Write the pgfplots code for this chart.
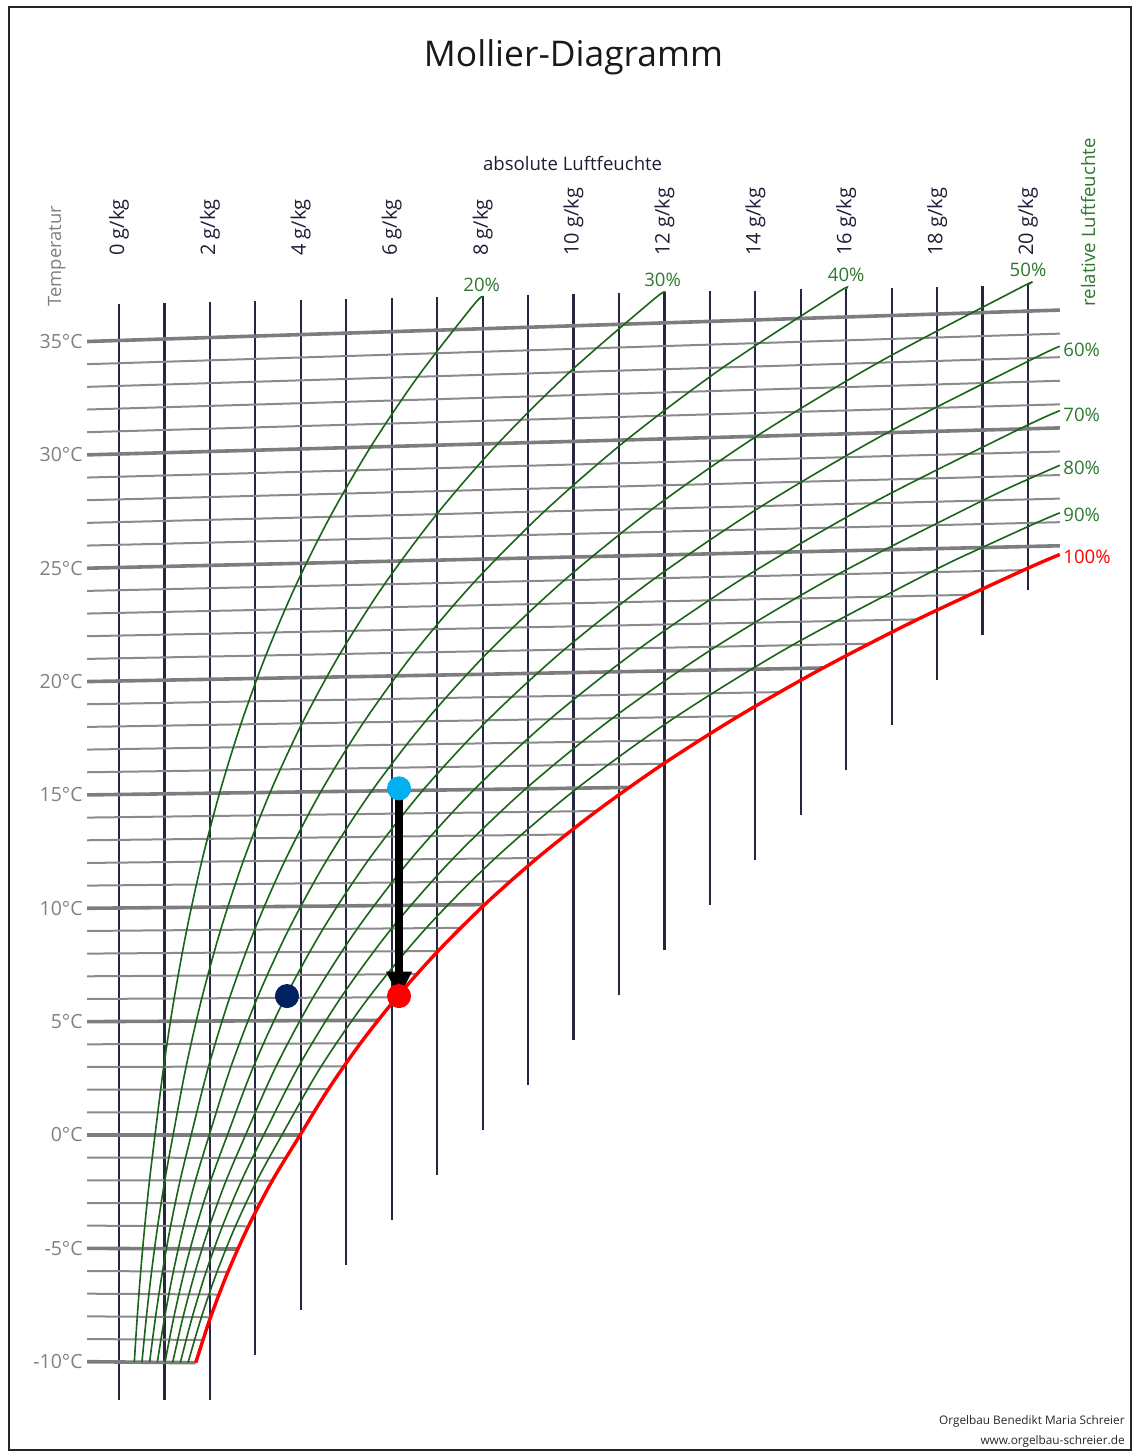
\documentclass[border=0pt]{standalone}
\usepackage{pgfplots}
\pgfplotsset{compat=1.18}
\usepackage{fontspec}
\setmainfont{Open Sans}
\usetikzlibrary{arrows.meta}
\definecolor{vline}{RGB}{38,38,64}
\definecolor{hmajor}{RGB}{125,125,125}
\definecolor{hminor}{RGB}{138,138,138}
\definecolor{rhline}{RGB}{25,100,25}
\definecolor{rhlab}{RGB}{45,120,45}
\definecolor{tlab}{RGB}{128,128,128}
\definecolor{axlab}{RGB}{30,30,55}
\definecolor{navydot}{RGB}{0,32,96}
\definecolor{bluedot}{RGB}{0,176,240}
\definecolor{satred}{RGB}{255,0,0}
\tikzset{gk/.style={rotate=90,anchor=west,inner sep=0pt,text=axlab,font=\fontsize{10pt}{12pt}\selectfont},
  tl/.style={anchor=east,inner sep=0pt,text=tlab,font=\fontsize{9.75pt}{11pt}\selectfont},
  pl/.style={inner sep=0pt,text=rhlab,font=\fontsize{9.3pt}{11pt}\selectfont}}
\begin{document}
\begin{tikzpicture}
\begin{axis}[width=568pt,height=726pt,scale only axis,
  xmin=-2.618,xmax=22.376,ymin=-13.965,ymax=50,
  hide axis,clip=false,unbounded coords=jump]
\path (rel axis cs:0,0) rectangle (rel axis cs:1,1);
\draw[line width=0.9pt,black!85] (axis cs:-2.42,-13.877) rectangle (axis cs:22.266,49.69);

% vertical lines (absolute humidity)
\addplot[vline,line width=1.1pt] table[row sep=\\]{x y\\
0 -11.67\\0 36.60\\nan nan\\
1 -11.67\\1 36.64\\nan nan\\
2 -11.67\\2 36.69\\nan nan\\
3 -9.69\\3 36.73\\nan nan\\
4 -7.71\\4 36.77\\nan nan\\
5 -5.72\\5 36.82\\nan nan\\
6 -3.74\\6 36.86\\nan nan\\
7 -1.76\\7 36.90\\nan nan\\
8 0.22\\8 36.94\\nan nan\\
9 2.20\\9 36.99\\nan nan\\
10 4.19\\10 37.03\\nan nan\\
11 6.17\\11 37.07\\nan nan\\
12 8.15\\12 37.12\\nan nan\\
13 10.13\\13 37.16\\nan nan\\
14 12.11\\14 37.20\\nan nan\\
15 14.10\\15 37.25\\nan nan\\
16 16.08\\16 37.29\\nan nan\\
17 18.06\\17 37.33\\nan nan\\
18 20.04\\18 37.37\\nan nan\\
19 22.02\\19 37.42\\nan nan\\
20 24.00\\20 37.46\\
};

% minor isotherms
\addplot[hminor,line width=1pt] table[row sep=\\]{x y\\
-0.7 -8.988\\1.8449 -9.031\\nan nan\\
-0.7 -7.990\\2.0150 -8.030\\nan nan\\
-0.7 -6.991\\2.1990 -7.028\\nan nan\\
-0.7 -5.992\\2.3981 -6.027\\nan nan\\
-0.7 -3.995\\2.8476 -4.021\\nan nan\\
-0.7 -2.996\\3.0998 -3.017\\nan nan\\
-0.7 -1.997\\3.3725 -2.012\\nan nan\\
-0.7 -0.999\\3.6673 -1.007\\nan nan\\
-0.7 0.999\\4.2855 1.008\\nan nan\\
-0.7 1.997\\4.6062 2.017\\nan nan\\
-0.7 2.996\\4.9477 3.027\\nan nan\\
-0.7 3.995\\5.3119 4.039\\nan nan\\
-0.7 5.992\\6.1136 6.068\\nan nan\\
-0.7 6.991\\6.5527 7.085\\nan nan\\
-0.7 7.990\\7.0201 8.104\\nan nan\\
-0.7 8.988\\7.5174 9.125\\nan nan\\
-0.7 10.986\\8.6084 11.175\\nan nan\\
-0.7 11.984\\9.2051 12.204\\nan nan\\
-0.7 12.983\\9.8383 13.237\\nan nan\\
-0.7 13.982\\10.5109 14.272\\nan nan\\
-0.7 15.979\\11.9809 16.355\\nan nan\\
-0.7 16.978\\12.7836 17.402\\nan nan\\
-0.7 17.977\\13.6337 18.454\\nan nan\\
-0.7 18.975\\14.5348 19.511\\nan nan\\
-0.7 20.973\\16.5006 21.641\\nan nan\\
-0.7 21.972\\17.5716 22.715\\nan nan\\
-0.7 22.970\\18.7040 23.796\\nan nan\\
-0.7 23.969\\19.9031 24.884\\nan nan\\
-0.7 25.966\\20.7 26.996\\nan nan\\
-0.7 26.965\\20.7 28.034\\nan nan\\
-0.7 27.964\\20.7 29.072\\nan nan\\
-0.7 28.962\\20.7 30.111\\nan nan\\
-0.7 30.960\\20.7 32.187\\nan nan\\
-0.7 31.959\\20.7 33.225\\nan nan\\
-0.7 32.957\\20.7 34.264\\nan nan\\
-0.7 33.956\\20.7 35.302\\
};

% major isotherms
\addplot[hmajor,line width=1.8pt] table[row sep=\\]{x y\\
-0.7 -9.987\\1.6885 -10.031\\nan nan\\
-0.7 -4.994\\2.6136 -5.024\\nan nan\\
-0.7 0\\3.9854 0\\nan nan\\
-0.7 4.994\\5.7003 5.053\\nan nan\\
-0.7 9.987\\8.0462 10.149\\nan nan\\
-0.7 14.981\\11.2246 15.311\\nan nan\\
-0.7 19.974\\15.4898 20.573\\nan nan\\
-0.7 24.968\\20.7 25.957\\nan nan\\
-0.7 29.961\\20.7 31.149\\nan nan\\
-0.7 34.955\\20.7 36.340\\
};

% relative humidity curves
\addplot[rhline,line width=0.8pt,smooth] table[row sep=\\]{x y\\
0.3370 -10.006\\0.4020 -8.006\\0.4781 -6.005\\0.5674 -4.004\\0.6716 -2.002\\0.7930 0\\
0.9833 3.005\\1.2132 6.013\\1.4891 9.025\\1.8195 12.040\\2.2129 15.061\\2.6797 18.089\\
3.2315 21.126\\3.8813 24.172\\4.6435 27.232\\5.5349 30.307\\6.5742 33.401\\7.7821 36.518\\8.0 36.94\\
};
\addplot[rhline,line width=0.8pt,smooth] table[row sep=\\]{x y\\
0.5056 -10.009\\0.6032 -8.009\\0.7175 -6.008\\0.8516 -4.006\\1.0079 -2.004\\1.1903 0\\
1.4761 3.008\\1.8216 6.020\\2.2363 9.037\\2.7332 12.061\\3.3254 15.092\\4.0283 18.134\\
4.8599 21.189\\5.8401 24.259\\6.9914 27.349\\8.3395 30.463\\9.9137 33.605\\11.7467 36.782\\12.0 37.12\\
};
\addplot[rhline,line width=0.8pt,smooth] table[row sep=\\]{x y\\
0.6743 -10.012\\0.8045 -8.012\\0.9570 -6.011\\1.1359 -4.008\\1.3446 -2.005\\1.5881 0\\
1.9697 3.011\\2.4311 6.027\\2.9853 9.050\\3.6496 12.081\\4.4417 15.123\\5.3827 18.179\\
6.4968 21.252\\7.8113 24.347\\9.3570 27.467\\11.1691 30.620\\13.2889 33.811\\15.7615 37.050\\16.0 37.29\\
};
\addplot[rhline,line width=0.8pt,smooth] table[row sep=\\]{x y\\
0.8431 -10.016\\1.0059 -8.015\\1.1967 -6.013\\1.4206 -4.011\\1.6817 -2.006\\1.9864 0\\
2.4640 3.014\\3.0419 6.034\\3.7362 9.062\\4.5687 12.101\\5.5621 15.154\\6.7430 18.225\\
8.1422 21.316\\9.7948 24.435\\11.7404 27.586\\14.0244 30.778\\16.7004 34.020\\19.8276 37.321\\20.0 37.46\\
};
\addplot[rhline,line width=0.8pt,smooth] table[row sep=\\]{x y\\
1.0120 -10.019\\1.2075 -8.018\\1.4366 -6.016\\1.7054 -4.013\\2.0191 -2.007\\2.3852 0\\
2.9592 3.016\\3.6538 6.041\\4.4888 9.075\\5.4906 12.122\\6.6865 15.186\\8.1090 18.270\\
9.7965 21.381\\11.7909 24.524\\14.1418 27.706\\16.9054 30.938\\20.1486 34.230\\20.7 34.74\\
};
\addplot[rhline,line width=0.8pt,smooth] table[row sep=\\]{x y\\
1.1810 -10.022\\1.4092 -8.021\\1.6767 -6.019\\1.9906 -4.015\\2.3569 -2.009\\2.7845 0\\
3.4551 3.019\\4.2670 6.047\\5.2432 9.087\\6.4151 12.142\\7.8149 15.217\\9.4813 18.316\\
11.4592 21.445\\13.7997 24.613\\16.5616 27.827\\19.8129 31.100\\20.7 31.91\\
};
\addplot[rhline,line width=0.8pt,smooth] table[row sep=\\]{x y\\
1.3501 -10.025\\1.6110 -8.024\\1.9170 -6.021\\2.2760 -4.017\\2.6950 -2.010\\3.1843 0\\
3.9518 3.022\\4.8813 6.054\\5.9995 9.100\\7.3423 12.163\\8.9473 15.248\\10.8593 18.362\\
13.1309 21.510\\15.8210 24.702\\19.0000 27.949\\20.1806 29.045\\20.7 29.50\\
};
\addplot[rhline,line width=0.8pt,smooth] table[row sep=\\]{x y\\
1.5193 -10.028\\1.8130 -8.027\\2.1574 -6.024\\2.5617 -4.019\\3.0336 -2.011\\3.5846 0\\
4.4493 3.025\\5.4969 6.061\\6.7576 9.113\\8.2723 12.184\\10.0840 15.280\\12.2435 18.408\\
14.8112 21.575\\17.8557 24.793\\18.9900 25.878\\20.1892 26.971\\20.7 27.41\\
};
% saturation curve
\addplot[satred,line width=1.7pt,smooth] table[row sep=\\]{x y\\
1.6885 -10.031\\2.0150 -8.030\\2.3981 -6.027\\2.8476 -4.021\\3.3725 -2.012\\3.9854 0\\
4.6062 2.017\\5.3119 4.039\\6.1136 6.068\\7.0201 8.104\\8.0462 10.149\\9.2051 12.204\\
10.5109 14.272\\11.9809 16.355\\13.6337 18.454\\15.4898 20.573\\17.5716 22.715\\19.9031 24.884\\20.7 25.573\\
};

% state points
\addplot[only marks,mark=*,mark size=5.8pt,navydot,mark options={draw=navydot,fill=navydot}] coordinates {(3.696,6.12)};
\addplot[only marks,mark=*,mark size=5.8pt,satred,mark options={draw=satred,fill=satred}] coordinates {(6.161,6.12)};
\addplot[black,line width=3.6pt,-{Triangle[width=12pt,length=13pt]}] coordinates {(6.161,15.0) (6.161,6.05)};
\addplot[only marks,mark=*,mark size=5.8pt,bluedot,mark options={draw=bluedot,fill=bluedot}] coordinates {(6.161,15.27)};

% texts
\node[anchor=base,inner sep=0pt,text=black!90,font=\fontsize{17.7pt}{20pt}\selectfont] at (axis cs:10,47.06) {Mollier-Diagramm};
\node[anchor=base,inner sep=0pt,text=axlab,font=\fontsize{9.3pt}{11pt}\selectfont] at (axis cs:9.98,42.51) {absolute Luftfeuchte};
\node[gk] at (axis cs:0,38.72) {0 g/kg};
\node[gk] at (axis cs:2,38.72) {2 g/kg};
\node[gk] at (axis cs:4,38.72) {4 g/kg};
\node[gk] at (axis cs:6,38.72) {6 g/kg};
\node[gk] at (axis cs:8,38.72) {8 g/kg};
\node[gk] at (axis cs:10,38.72) {10 g/kg};
\node[gk] at (axis cs:12,38.72) {12 g/kg};
\node[gk] at (axis cs:14,38.72) {14 g/kg};
\node[gk] at (axis cs:16,38.72) {16 g/kg};
\node[gk] at (axis cs:18,38.72) {18 g/kg};
\node[gk] at (axis cs:20,38.72) {20 g/kg};
\node[rotate=90,anchor=west,inner sep=0pt,text=tlab,font=\fontsize{9.2pt}{11pt}\selectfont] at (axis cs:-1.371,36.48) {Temperatur};
\node[rotate=90,inner sep=0pt,text=rhlab,font=\fontsize{9.3pt}{11pt}\selectfont] at (axis cs:21.32,40.20) {relative Luftfeuchte};
\node[tl] at (axis cs:-0.792,34.955) {35°C};
\node[tl] at (axis cs:-0.792,29.961) {30°C};
\node[tl] at (axis cs:-0.792,24.968) {25°C};
\node[tl] at (axis cs:-0.792,19.974) {20°C};
\node[tl] at (axis cs:-0.792,14.981) {15°C};
\node[tl] at (axis cs:-0.792,9.987) {10°C};
\node[tl] at (axis cs:-0.792,4.994) {5°C};
\node[tl] at (axis cs:-0.792,0) {0°C};
\node[tl] at (axis cs:-0.792,-4.994) {-5°C};
\node[tl] at (axis cs:-0.792,-9.987) {-10°C};
\node[pl] at (axis cs:7.98,37.44) {20\%};
\node[pl] at (axis cs:11.96,37.67) {30\%};
\node[pl] at (axis cs:16.0,37.89) {40\%};
\node[pl] at (axis cs:20.0,38.11) {50\%};
\node[pl,anchor=west] at (axis cs:20.77,34.58) {60\%};
\node[pl,anchor=west] at (axis cs:20.77,31.72) {70\%};
\node[pl,anchor=west] at (axis cs:20.77,29.38) {80\%};
\node[pl,anchor=west] at (axis cs:20.77,27.31) {90\%};
\node[pl,anchor=west,text=satred] at (axis cs:20.77,25.46) {100\%};
\node[anchor=east,inner sep=0pt,text=black!85,font=\fontsize{5.9pt}{7pt}\selectfont] at (axis cs:22.134,-12.64) {Orgelbau Benedikt Maria Schreier};
\node[anchor=east,inner sep=0pt,text=black!85,font=\fontsize{5.9pt}{7pt}\selectfont] at (axis cs:22.134,-13.52) {www.orgelbau-schreier.de};
\end{axis}
\end{tikzpicture}
\end{document}
